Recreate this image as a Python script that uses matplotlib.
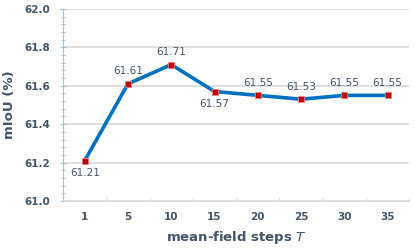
import matplotlib.pyplot as plt
import numpy as np
from matplotlib.ticker import MultipleLocator

# data
steps = ['1', '5', '10', '15', '20', '25', '30', '35']
miou = [61.21, 61.61, 61.71, 61.57, 61.55, 61.53, 61.55, 61.55]
label_below = [True, False, False, True, False, False, False, False]

text_col = '#44546A'
x = np.arange(len(steps))

fig = plt.figure(figsize=(4.15, 2.49), dpi=100)
ax = fig.add_axes([0.152, 0.193, 0.834, 0.771])

ax.plot(x, miou, color='#0070C0', lw=2.6, zorder=3,
        marker='s', ms=5, mfc='#C00000', mec='#E88080', mew=0.6)

for xi, v, below in zip(x, miou, label_below):
    off = -9 if below else 9
    ax.annotate(f'{v:.2f}', (xi, v), xytext=(0, off), textcoords='offset points',
                ha='center', va='center', fontsize=7.5, color=text_col)

ax.set_xlim(-0.5, len(steps) - 0.5)
ax.set_ylim(61.0, 62.0)
ax.set_xticks(x)
ax.set_xticklabels(steps)
ax.set_xticks(np.arange(-0.5, len(steps)), minor=True)
ax.yaxis.set_major_locator(MultipleLocator(0.2))
ax.yaxis.set_minor_locator(MultipleLocator(0.04))
ax.set_yticklabels([f'{t:.1f}' for t in ax.get_yticks()])

ax.grid(axis='y', color='#D9D9D9', lw=1.2)
ax.set_axisbelow(True)
for s in ['top', 'right']:
    ax.spines[s].set_visible(False)
ax.spines['left'].set_color('#9DC3E6')
ax.spines['bottom'].set_color('#D9D9D9')

ax.tick_params(axis='y', which='major', direction='inout', length=5, color='#9DC3E6',
               labelsize=7.5, labelcolor=text_col, pad=7)
ax.tick_params(axis='y', which='minor', direction='inout', length=3, color='#9DC3E6')
ax.tick_params(axis='x', which='major', length=0, labelsize=7.5, labelcolor=text_col, pad=8)
ax.tick_params(axis='x', which='minor', direction='in', length=3, color='#D9D9D9')
for lab in ax.get_xticklabels() + ax.get_yticklabels():
    lab.set_fontweight('bold')

ax.set_ylabel('mIoU (%)', fontsize=9.5, color=text_col, fontweight='bold')
ax.yaxis.set_label_coords(-0.135, 0.5)
ax.set_xlabel('mean-field steps $T$', fontsize=9.5, color=text_col, fontweight='bold', labelpad=5)

fig.savefig('out.png', dpi=100)
